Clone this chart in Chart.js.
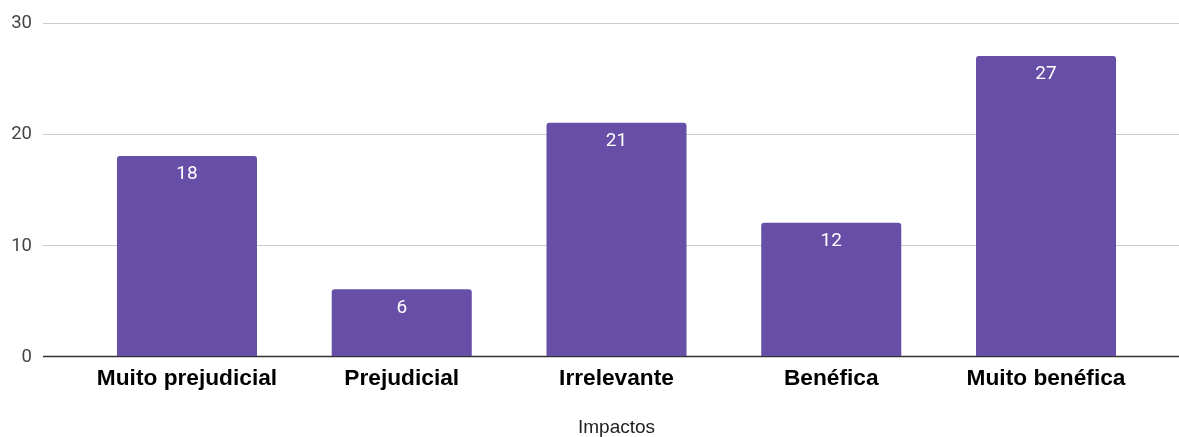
<!DOCTYPE html>
<html>
<head>
<meta charset="utf-8">
<script src="https://cdn.jsdelivr.net/npm/chart.js@4/dist/chart.umd.min.js"></script>
<style>
html,body{margin:0;padding:0;background:#fff;}
#wrap{width:1179px;height:437px;position:relative;}
</style>
</head>
<body>
<div id="wrap"><canvas id="c" width="1179" height="437"></canvas></div>
<script>
const categories = ["Muito prejudicial", "Prejudicial", "Irrelevante", "Benéfica", "Muito benéfica"];
const values = [18, 6, 21, 12, 27];
const yTicks = [0, 10, 20, 30];
const xTitle = "Impactos";

const gridPlugin = {
  id: 'fullGrid',
  beforeDatasetsDraw(chart) {
    const ctx = chart.ctx, y = chart.scales.y;
    ctx.save();
    yTicks.forEach(v => {
      const py = Math.round(y.getPixelForValue(v)) + 0.5;
      ctx.beginPath();
      ctx.strokeStyle = v === 0 ? '#333333' : '#cccccc';
      ctx.lineWidth = v === 0 ? 1.5 : 1;
      ctx.moveTo(43, py);
      ctx.lineTo(1179, py);
      ctx.stroke();
    });
    ctx.fillStyle = '#444444';
    ctx.font = '18.5px Roboto';
    ctx.textAlign = 'right';
    ctx.textBaseline = 'middle';
    yTicks.forEach(v => {
      ctx.fillText(String(v), 32, y.getPixelForValue(v) + 1);
    });
    ctx.restore();
  }
};
const labelPlugin = {
  id: 'valueLabels',
  afterDatasetsDraw(chart) {
    const ctx = chart.ctx;
    const meta = chart.getDatasetMeta(0);
    ctx.save();
    ctx.fillStyle = '#ffffff';
    ctx.font = '19px Roboto';
    ctx.textAlign = 'center';
    ctx.textBaseline = 'middle';
    meta.data.forEach((bar, i) => {
      ctx.fillText(String(values[i]), bar.x, bar.y + 18.5);
    });
    ctx.restore();
  }
};

new Chart(document.getElementById('c'), {
  type: 'bar',
  data: {
    labels: categories,
    datasets: [{
      data: values,
      backgroundColor: '#674ea7',
      borderRadius: {topLeft: 3, topRight: 3, bottomLeft: 0, bottomRight: 0},
      borderSkipped: 'start',
      barPercentage: 1,
      categoryPercentage: 0.652
    }]
  },
  options: {
    responsive: false,
    animation: false,
    devicePixelRatio: 1,
    layout: {padding: {left: 0, right: 25.6, top: 22.7, bottom: 0}},
    plugins: {legend: {display: false}, tooltip: {enabled: false}},
    scales: {
      x: {
        grid: {display: false, drawTicks: false},
        border: {display: false},
        ticks: {color: '#000000', font: {family: 'Liberation Sans', size: 22.7, weight: 'bold'}, padding: 9.5, maxRotation: 0, autoSkip: false},
        title: {display: true, text: xTitle, color: '#222222', font: {family: 'Liberation Sans', size: 19}, padding: {top: 18, bottom: -2.5}},
        afterFit(s) { s.height = 81; }
      },
      y: {
        min: 0, max: 30,
        afterBuildTicks(s) { s.ticks = yTicks.map(v => ({value: v})); },
        grid: {display: false, drawTicks: false},
        border: {display: false},
        ticks: {display: false, padding: 0},
        afterFit(s) { s.width = 79.6; }
      }
    }
  },
  plugins: [gridPlugin, labelPlugin]
});
</script>
</body>
</html>
